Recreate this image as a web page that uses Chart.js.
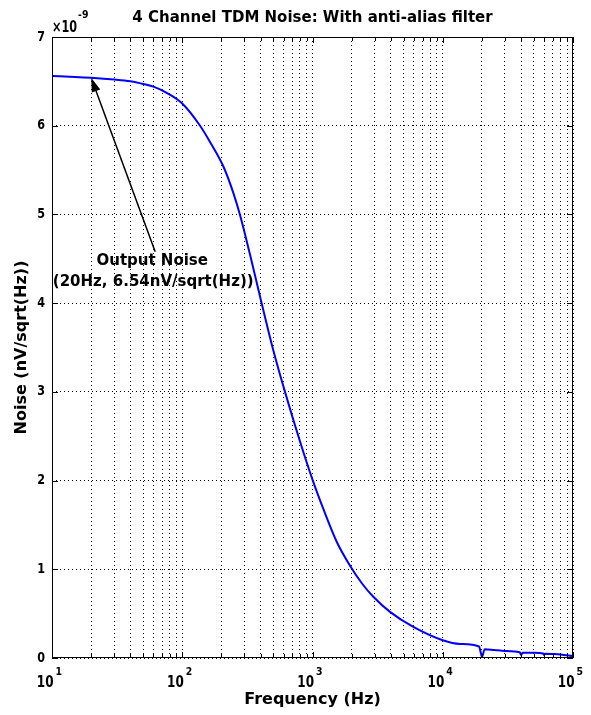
<!DOCTYPE html>
<html>
<head>
<meta charset="utf-8">
<script src="https://cdn.jsdelivr.net/npm/chart.js@4/dist/chart.umd.min.js"></script>
<style>
  html, body { margin: 0; padding: 0; background: #fff; overflow: hidden; }
  #wrap { width: 591px; height: 715px; position: relative; }
</style>
</head>
<body>
<div id="wrap"><canvas id="noiseChart"></canvas></div>
<script>
// output noise of the 4 channel TDM chain, nV/sqrt(Hz) vs Hz
const freqHz = [10, 15, 20, 30, 40, 47, 60, 76, 100, 137, 163, 207, 247, 278, 331, 407, 500, 615, 802,
  1000, 1211, 1534, 1941, 2400, 2931, 3937, 5946, 10000, 13600, 19000, 20000, 21000, 25000, 30000,
  39000, 40000, 41000, 50000, 59000, 60000, 61000, 70000, 80000, 100000];
const noiseNv = [6.56, 6.55, 6.54, 6.52, 6.50, 6.48, 6.44, 6.37, 6.25, 6.00, 5.82, 5.54, 5.24, 4.99, 4.55, 4.00, 3.47, 3.00, 2.44,
  2.01, 1.68, 1.31, 1.04, 0.84, 0.69, 0.52, 0.35, 0.20, 0.158, 0.13, 0.015, 0.10, 0.09, 0.08,
  0.065, 0.035, 0.06, 0.058, 0.05, 0.035, 0.048, 0.045, 0.04, 0.02];

const decades = [10, 100, 1000, 10000, 100000];
const decadeExp = ["1", "2", "3", "4", "5"];
const yTickVals = [0, 1, 2, 3, 4, 5, 6, 7];

// annotation: arrow from the label down-left to the 20 Hz point
const markFreq = 20;
const markNoise = 6.54;
const noteLines = ["Output Noise", "(20Hz, 6.54nV/sqrt(Hz))"];
const noteTail = { x: 62, y: 4.58 };

// dotted grid at 1..9 x each decade
const gridFreqs = [];
decades.forEach((d, i) => {
  for (let m = 1; m <= 9; m++) {
    if (i === decades.length - 1 && m > 1) break;
    gridFreqs.push(d * m);
  }
});

const FONT = "'DejaVu Sans', 'Liberation Sans', sans-serif";

function squeezed(ctx, text, x, y, font, align, sx) {
  ctx.save();
  ctx.font = font;
  ctx.textAlign = align;
  ctx.translate(x, y);
  ctx.scale(sx, 1);
  ctx.fillText(text, 0, 0);
  ctx.restore();
}

const matlabFrame = {
  id: "matlabFrame",
  afterDraw(chart) {
    const { ctx, chartArea: a } = chart;
    const xs = chart.scales.x, ys = chart.scales.y;
    ctx.save();
    ctx.strokeStyle = "#000";
    ctx.fillStyle = "#000";
    ctx.lineWidth = 1;
    ctx.setLineDash([]);

    // box
    ctx.strokeRect(Math.round(a.left) + 0.5, Math.round(a.top) + 0.5,
      Math.round(a.right - a.left) - 1, Math.round(a.bottom - a.top) - 1);

    // inward ticks
    ctx.beginPath();
    xs.ticks.forEach(t => {
      const px = Math.round(xs.getPixelForValue(t.value)) + 0.5;
      const len = decades.includes(t.value) ? 6 : 4;
      ctx.moveTo(px, a.bottom); ctx.lineTo(px, a.bottom - len);
      ctx.moveTo(px, a.top); ctx.lineTo(px, a.top + len);
    });
    yTickVals.forEach(v => {
      const py = Math.round(ys.getPixelForValue(v)) + 0.5;
      ctx.moveTo(a.left, py); ctx.lineTo(a.left + 6, py);
      ctx.moveTo(a.right, py); ctx.lineTo(a.right - 6, py);
    });
    ctx.stroke();

    // y tick labels + exponent
    ctx.textBaseline = "middle";
    yTickVals.forEach(v => {
      squeezed(ctx, String(v), a.left - 7, ys.getPixelForValue(v), "bold 14px " + FONT, "right", 0.8);
    });
    ctx.textBaseline = "alphabetic";
    squeezed(ctx, "\u00d710", a.left, 32, "bold 15px " + FONT, "left", 0.75);
    squeezed(ctx, "-9", a.left + 26, 18, "bold 11px " + FONT, "left", 0.85);

    // x tick labels, 10^n
    decades.forEach((d, i) => {
      const px = xs.getPixelForValue(d);
      squeezed(ctx, "10", px + 1.5, 687, "bold 16px " + FONT, "right", 0.75);
      squeezed(ctx, decadeExp[i], px + 3.5, 675, "bold 11px " + FONT, "left", 0.85);
    });

    // titles
    ctx.textAlign = "center";
    ctx.font = "bold 15px " + FONT;
    ctx.fillText("4 Channel TDM Noise: With anti-alias filter", (a.left + a.right) / 2, 22);
    ctx.font = "bold 16px " + FONT;
    ctx.fillText("Frequency (Hz)", (a.left + a.right) / 2, 704);
    ctx.save();
    ctx.translate(22, (a.top + a.bottom) / 2);
    ctx.rotate(-Math.PI / 2);
    ctx.textBaseline = "middle";
    ctx.fillText("Noise (nV/sqrt(Hz))", 0, 0);
    ctx.restore();

    // arrow to the marked point
    const tipX = xs.getPixelForValue(markFreq), tipY = ys.getPixelForValue(markNoise);
    const tailX = xs.getPixelForValue(noteTail.x), tailY = ys.getPixelForValue(noteTail.y);
    const ang = Math.atan2(tipY - tailY, tipX - tailX);
    const headLen = 14, headHalf = 4.5;
    const baseX = tipX - headLen * Math.cos(ang), baseY = tipY - headLen * Math.sin(ang);
    ctx.lineWidth = 1.5;
    ctx.beginPath();
    ctx.moveTo(tailX, tailY);
    ctx.lineTo(baseX, baseY);
    ctx.stroke();
    ctx.beginPath();
    ctx.moveTo(tipX, tipY);
    ctx.lineTo(baseX + headHalf * Math.sin(ang), baseY - headHalf * Math.cos(ang));
    ctx.lineTo(baseX - headHalf * Math.sin(ang), baseY + headHalf * Math.cos(ang));
    ctx.closePath();
    ctx.fill();

    ctx.font = "bold 15px " + FONT;
    ctx.textAlign = "center";
    ctx.textBaseline = "middle";
    ctx.fillText(noteLines[0], tailX - 3, tailY + 9);
    ctx.fillText(noteLines[1], tailX - 2, tailY + 30);
    ctx.restore();
  }
};

const gridOpts = { color: "#000", lineWidth: 1, drawTicks: false };

new Chart(document.getElementById("noiseChart"), {
  type: "line",
  data: {
    datasets: [{
      data: freqHz.map((f, i) => ({ x: f, y: noiseNv[i] })),
      borderColor: "#0000ff",
      backgroundColor: "transparent",
      borderWidth: 2,
      pointRadius: 0,
      cubicInterpolationMode: "monotone",
    }]
  },
  options: {
    responsive: true,
    maintainAspectRatio: false,
    animation: false,
    layout: { padding: { left: 52, right: 18, top: 37, bottom: 57 } },
    plugins: { legend: { display: false }, tooltip: { enabled: false } },
    scales: {
      x: {
        type: "logarithmic", min: 10, max: 100000,
        ticks: { display: false, autoSkip: false },
        afterBuildTicks: s => { s.ticks = gridFreqs.map(v => ({ value: v, major: decades.includes(v) })); },
        grid: gridOpts,
        border: { display: false, dash: [1, 3] }
      },
      y: {
        min: 0, max: 7,
        ticks: { display: false, stepSize: 1 },
        grid: gridOpts,
        border: { display: false, dash: [1, 3] }
      }
    }
  },
  plugins: [matlabFrame]
});
</script>
</body>
</html>
